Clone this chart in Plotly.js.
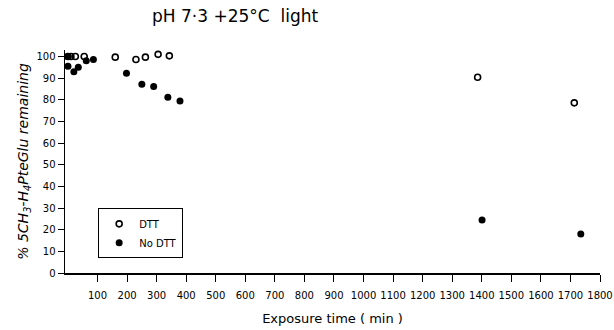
<!DOCTYPE html>
<html>
<head>
<meta charset="utf-8">
<script src="https://cdn.plot.ly/plotly-3.0.1.min.js"></script>
<style>html,body{margin:0;padding:0;background:#fff;}#chart{width:614px;height:330px;}</style>
</head>
<body>
<div id="chart"></div>
<script>
// Data
const dttTime = [0, 10, 25, 55, 160, 230, 262, 305, 343, 1386, 1713];
const dttRemaining = [100, 100, 100, 100, 99.7, 98.6, 99.7, 101, 100.3, 90.4, 78.6];
const noDttTime = [0, 0, 20, 35, 62, 86, 198, 250, 290, 338, 379, 1401, 1735];
const noDttRemaining = [100, 95.5, 93, 95, 98, 98.6, 92.3, 87.2, 86.1, 81.2, 79.5, 24.5, 18];
const xTickVals = [100,200,300,400,500,600,700,800,900,1000,1100,1200,1300,1400,1500,1600,1700,1800];
const yTickVals = [0,10,20,30,40,50,60,70,80,90,100];

const font = 'DejaVu Sans, Liberation Sans, sans-serif';

const traces = [
  {x: dttTime, y: dttRemaining, name: 'DTT', type: 'scatter', mode: 'markers',
   marker: {symbol: 'circle-open', size: 6, color: '#000', line: {width: 1.6, color: '#000'}}},
  {x: noDttTime, y: noDttRemaining, name: 'No DTT', type: 'scatter', mode: 'markers',
   marker: {symbol: 'circle', size: 7, color: '#000'}}
];

const layout = {
  width: 614, height: 330,
  margin: {l: 65, r: 14, t: 50, b: 57},
  paper_bgcolor: '#fff', plot_bgcolor: '#fff',
  font: {family: font, color: '#000', size: 10},
  title: {text: 'pH 7·3 +25°C  light', x: 0.383, xanchor: 'center', y: 0.952, yanchor: 'middle',
          font: {size: 17, family: font, color: '#000'}},
  showlegend: true,
  legend: {x: 0.062, y: 0.29, xanchor: 'left', yanchor: 'top', bordercolor: '#000', borderwidth: 1,
           bgcolor: '#fff', font: {size: 10, family: font, color: '#000'}, itemwidth: 30, tracegroupgap: 0},
  xaxis: {range: [-10, 1800], tickvals: xTickVals, ticktext: xTickVals.map(String),
          showgrid: false, zeroline: false, showline: true, linecolor: '#000', linewidth: 1.5,
          ticks: 'outside', ticklen: 7, tickwidth: 1, tickcolor: '#000', ticklabelstandoff: 5,
          tickfont: {size: 10, family: font, color: '#000'},
          title: {text: 'Exposure time ( min )', font: {size: 13, family: font, color: '#000'}, standoff: 14}},
  yaxis: {range: [0, 103], tickvals: yTickVals, ticktext: yTickVals.map(String),
          showgrid: false, zeroline: false, showline: true, linecolor: '#000', linewidth: 1.5,
          ticks: 'outside', ticklen: 6, tickwidth: 1, tickcolor: '#000',
          tickfont: {size: 10, family: font, color: '#000'},
          title: {text: '<i>% 5CH<sub>3</sub>-H<sub>4</sub>PteGlu remaining</i>', font: {size: 14, family: font, color: '#000'}, standoff: 4}}
};

Plotly.newPlot('chart', traces, layout, {displayModeBar: false, staticPlot: true});
</script>
</body>
</html>
